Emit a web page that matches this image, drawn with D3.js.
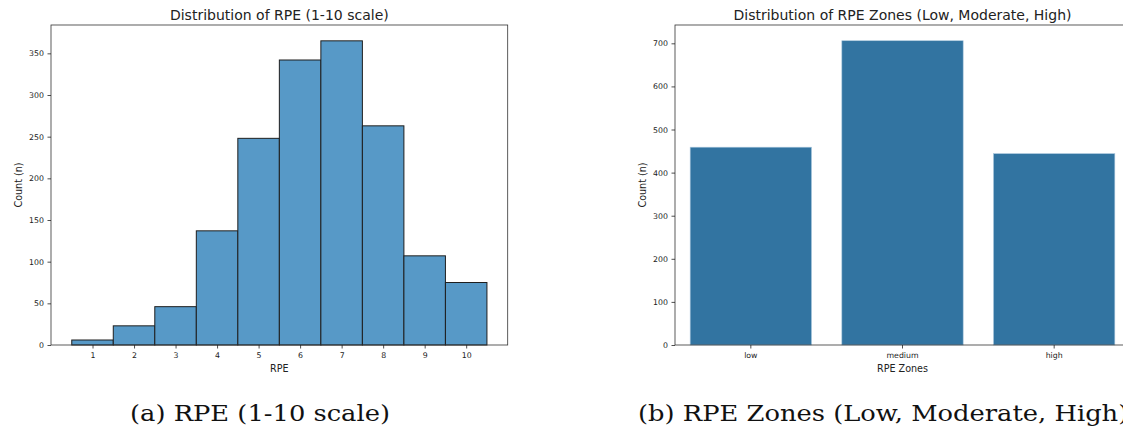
<!DOCTYPE html>
<html><head><meta charset="utf-8">
<script src="https://cdn.jsdelivr.net/npm/d3@7"></script>
<style>body{margin:0;background:#fff;overflow:hidden}svg{display:block}</style>
</head><body>
<script>
const rpeLevels = [1,2,3,4,5,6,7,8,9,10];
const rpeCounts = [6,23,46,137,248,342,365,263,107,75];
const rpeYTicks = [0,50,100,150,200,250,300,350];
const zoneNames = ["low","medium","high"];
const zoneCounts = [459,706,444];
const zoneYTicks = [0,100,200,300,400,500,600,700];

const W=1123,H=430;
const svg=d3.select("body").append("svg").attr("width",W).attr("height",H);
const sans="DejaVu Sans, sans-serif";
const tickFs="7.8px", labelFs="9.6px", titleFs="14px";

function yAxis(g,y,ticks){
  const ax=g.append("g").call(d3.axisLeft(y).tickValues(ticks).tickSize(3.5).tickPadding(3.5));
  ax.select(".domain").remove();
  ax.selectAll("line").attr("stroke","#222").attr("stroke-width",0.8);
  ax.selectAll("text").attr("font-family",sans).attr("font-size",tickFs).attr("fill","#222");
}
function xAxis(g,x,vals){
  const a=d3.axisBottom(x).tickSize(3.5).tickPadding(3.5);
  if(vals) a.tickValues(vals);
  const xa=g.call(a);
  xa.select(".domain").remove();
  xa.selectAll("line").attr("stroke","#222").attr("stroke-width",0.8);
  xa.selectAll("text").attr("font-family",sans).attr("font-size",tickFs).attr("fill","#222");
}
const capFont="DejaVu Serif, serif", capFs="22.5px";

// ---------- Panel A ----------
let capA;
{
  const L=51,R=507.7,T=25,B=345;
  const x=d3.scaleLinear().domain([0,11]).range([L,R]);
  const y=d3.scaleLinear().domain([0,384]).range([B,T]);
  const g=svg.append("g");
  g.selectAll("rect.bar").data(rpeLevels).join("rect")
    .attr("x",d=>x(d-0.5)).attr("width",d=>x(d+0.5)-x(d-0.5))
    .attr("y",(d,i)=>y(rpeCounts[i])).attr("height",(d,i)=>y(0)-y(rpeCounts[i]))
    .attr("fill","#5799c7").attr("stroke","#1e1e1e").attr("stroke-width",1);
  g.append("rect").attr("x",L).attr("y",T).attr("width",R-L).attr("height",B-T)
    .attr("fill","none").attr("stroke","#333").attr("stroke-width",0.8);
  yAxis(g.append("g").attr("transform",`translate(${L},0)`),y,rpeYTicks);
  xAxis(g.append("g").attr("transform",`translate(0,${B})`),x,rpeLevels);
  g.append("text").attr("x",(L+R)/2).attr("y",371.5).attr("text-anchor","middle")
    .attr("font-family",sans).attr("font-size",labelFs).attr("fill","#222").text("RPE");
  g.append("text").attr("transform",`translate(22,${(T+B)/2}) rotate(-90)`).attr("text-anchor","middle")
    .attr("font-family",sans).attr("font-size",labelFs).attr("fill","#222").text("Count (n)");
  g.append("text").attr("x",(L+R)/2).attr("y",20).attr("text-anchor","middle")
    .attr("font-family",sans).attr("font-size",titleFs).attr("fill","#222").text("Distribution of RPE (1-10 scale)");
  capA=g.append("text").attr("x",130).attr("y",421).attr("text-anchor","start")
    .attr("font-family",capFont).attr("font-size",capFs).attr("fill","#111").text("(a) RPE (1-10 scale)");
}

// ---------- Panel B ----------
let capB;
{
  const L=675,R=1130,T=25,B=345;
  const x=d3.scaleBand().domain(zoneNames).range([L,R]).paddingInner(0.2).paddingOuter(0.1);
  const y=d3.scaleLinear().domain([0,742.5]).range([B,T]);
  const g=svg.append("g");
  g.selectAll("rect.bar").data(zoneNames).join("rect")
    .attr("x",d=>x(d)).attr("width",x.bandwidth())
    .attr("y",(d,i)=>y(zoneCounts[i])).attr("height",(d,i)=>y(0)-y(zoneCounts[i]))
    .attr("fill","#3274a1").attr("stroke","#a9c7dd").attr("stroke-width",0.6);
  g.append("rect").attr("x",L).attr("y",T).attr("width",R-L).attr("height",B-T)
    .attr("fill","none").attr("stroke","#333").attr("stroke-width",0.8);
  yAxis(g.append("g").attr("transform",`translate(${L},0)`),y,zoneYTicks);
  xAxis(g.append("g").attr("transform",`translate(0,${B})`),x,null);
  g.append("text").attr("x",(L+R)/2).attr("y",371.5).attr("text-anchor","middle")
    .attr("font-family",sans).attr("font-size",labelFs).attr("fill","#222").text("RPE Zones");
  g.append("text").attr("transform",`translate(646,${(T+B)/2}) rotate(-90)`).attr("text-anchor","middle")
    .attr("font-family",sans).attr("font-size",labelFs).attr("fill","#222").text("Count (n)");
  g.append("text").attr("x",(L+R)/2).attr("y",20).attr("text-anchor","middle")
    .attr("font-family",sans).attr("font-size",titleFs).attr("fill","#222").text("Distribution of RPE Zones (Low, Moderate, High)");
  capB=g.append("text").attr("x",638).attr("y",421).attr("text-anchor","start")
    .attr("font-family",capFont).attr("font-size",capFs).attr("fill","#111").text("(b) RPE Zones (Low, Moderate, High)");
}
// stretch captions horizontally to mimic the wider serif of the original
{
  const natA=capA.node().getComputedTextLength();
  const f=260/natA;
  capA.attr("textLength",260).attr("lengthAdjust","spacingAndGlyphs");
  const natB=capB.node().getComputedTextLength();
  capB.attr("textLength",natB*f).attr("lengthAdjust","spacingAndGlyphs");
}
</script>
</body></html>
